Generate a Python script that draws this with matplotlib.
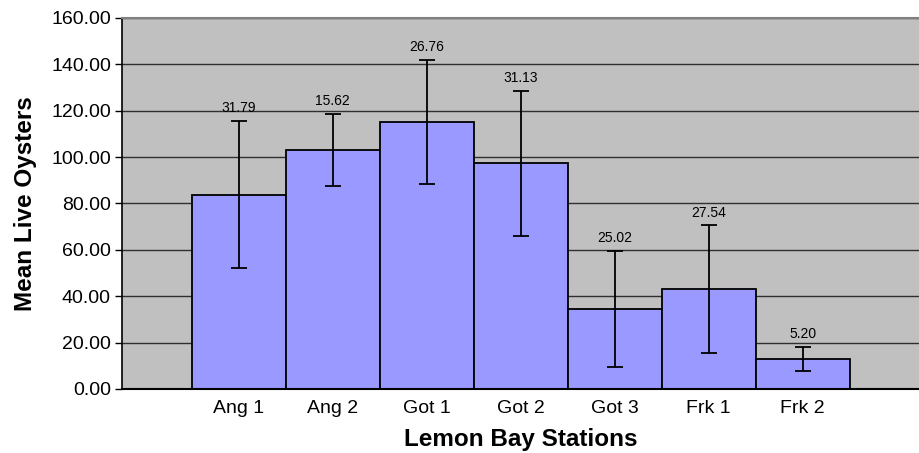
import matplotlib
matplotlib.use("Agg")
import matplotlib.pyplot as plt
import numpy as np

stations = ["Ang 1", "Ang 2", "Got 1", "Got 2", "Got 3", "Frk 1", "Frk 2"]
mean_live = [83.8, 103.0, 115.1, 97.3, 34.7, 43.0, 12.9]
std_dev = [31.79, 15.62, 26.76, 31.13, 25.02, 27.54, 5.20]
y_ticks = [0, 20, 40, 60, 80, 100, 120, 140, 160]

plt.rcParams["font.family"] = ["Liberation Sans", "DejaVu Sans"]

fig = plt.figure(figsize=(9.2, 4.53), dpi=100)
ax = fig.add_axes([0.1326, 0.1413, 0.8674, 0.819])
ax.set_facecolor("#C0C0C0")

x = np.arange(len(stations))
ax.set_axisbelow(True)
ax.yaxis.grid(True, color="#303030", linewidth=1.0)
ax.bar(x, mean_live, width=1.0, color="#9999FF", edgecolor="black", linewidth=1.3, zorder=2)
ax.errorbar(x, mean_live, yerr=std_dev, fmt="none", ecolor="black",
            elinewidth=1.3, capsize=6, capthick=1.3, zorder=3)

for xi, m, s in zip(x, mean_live, std_dev):
    ax.text(xi, m + s + 5.5, f"{s:.2f}", ha="center", va="center", fontsize=10)

ax.set_xlim(-1.24, 7.25)
ax.set_ylim(0, 160)
ax.set_yticks(y_ticks)
ax.set_yticklabels([f"{v:.2f}" for v in y_ticks], fontsize=14)
ax.set_xticks(x)
ax.set_xticklabels(stations, fontsize=14)
ax.tick_params(axis="x", length=0, pad=8)
ax.tick_params(axis="y", length=5, width=1, pad=3)

ax.spines["right"].set_visible(False)
ax.spines["top"].set_color("#808080")
ax.spines["top"].set_linewidth(1.5)
ax.spines["left"].set_linewidth(1.2)
ax.spines["bottom"].set_linewidth(1.5)

ax.set_xlabel("Lemon Bay Stations", fontsize=17.5, fontweight="bold", labelpad=8)
ax.set_ylabel("Mean Live Oysters", fontsize=17.5, fontweight="bold", labelpad=10)

fig.savefig("out.png", dpi=100)
